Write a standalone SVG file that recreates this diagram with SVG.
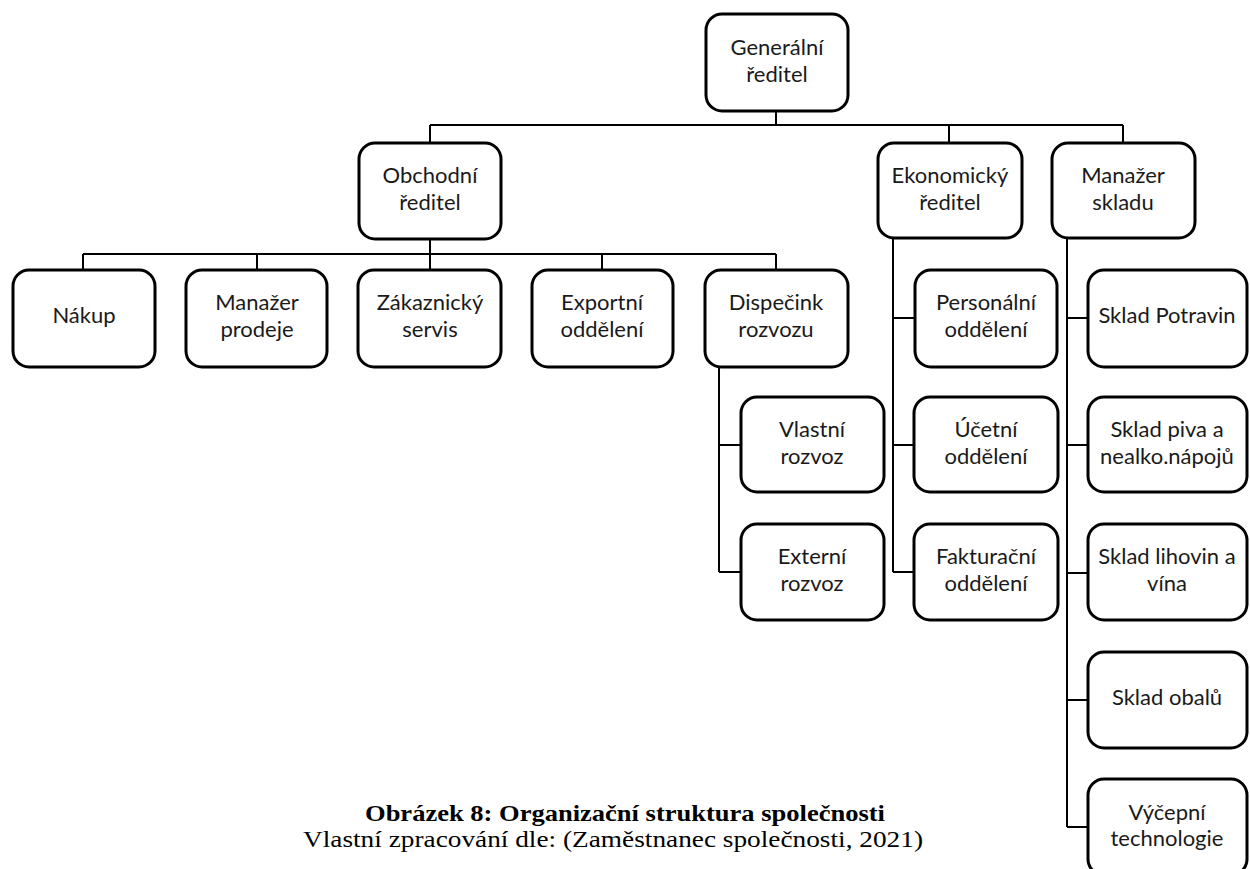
<svg xmlns="http://www.w3.org/2000/svg" width="1250" height="869" viewBox="0 0 1250 869">
<style>
.box{fill:#fff;stroke:#000;stroke-width:3}
.lbl{font-family:Lato,"Liberation Sans",sans-serif;font-size:22px;fill:#1a1a1a;text-anchor:middle}
.con{fill:none;stroke:#000;stroke-width:2}
.cap{font-family:"Liberation Serif",serif;font-size:23px;fill:#000}
</style>
<rect width="1250" height="869" fill="#fff"/>
<g id="connectors">
<path class="con" d="M776 112V125M430 125H1123M430 125V143M949 125V143M1123 125V143"/>
<path class="con" d="M430 239V254M83 254H776M83 254V270M257 254V270M430 254V270M602 254V270M776 254V270"/>
<path class="con" d="M719 367V572M719 445H741M719 572H741"/>
<path class="con" d="M893 238V572M893 318H915M893 445H915M893 572H915"/>
<path class="con" d="M1067 238V827M1067 318H1088M1067 445H1088M1067 573H1088M1067 700H1088M1067 827H1088"/>
</g>
<g id="n-generalni"><rect class="box" x="706" y="14" width="142" height="97" rx="16"/><text class="lbl" x="777" y="55">Generální</text><text class="lbl" x="777" y="82">ředitel</text></g>
<g id="n-obchodni"><rect class="box" x="359" y="143" width="142" height="96" rx="16"/><text class="lbl" x="430" y="183">Obchodní</text><text class="lbl" x="430" y="210">ředitel</text></g>
<g id="n-ekonomicky"><rect class="box" x="878" y="143" width="144" height="95" rx="16"/><text class="lbl" x="950" y="183">Ekonomický</text><text class="lbl" x="950" y="210">ředitel</text></g>
<g id="n-manazer-skladu"><rect class="box" x="1052" y="143" width="143" height="95" rx="16"/><text class="lbl" x="1123" y="183">Manažer</text><text class="lbl" x="1123" y="210">skladu</text></g>
<g id="n-nakup"><rect class="box" x="13" y="270" width="142" height="97" rx="16"/><text class="lbl" x="84" y="323">Nákup</text></g>
<g id="n-manazer-prodeje"><rect class="box" x="186" y="270" width="141" height="97" rx="16"/><text class="lbl" x="257" y="310">Manažer</text><text class="lbl" x="257" y="337">prodeje</text></g>
<g id="n-zakaznicky"><rect class="box" x="358" y="270" width="143" height="97" rx="16"/><text class="lbl" x="430" y="310">Zákaznický</text><text class="lbl" x="430" y="337">servis</text></g>
<g id="n-exportni"><rect class="box" x="532" y="270" width="141" height="97" rx="16"/><text class="lbl" x="602" y="310">Exportní</text><text class="lbl" x="602" y="337">oddělení</text></g>
<g id="n-dispecink"><rect class="box" x="705" y="270" width="143" height="97" rx="16"/><text class="lbl" x="776" y="310">Dispečink</text><text class="lbl" x="776" y="337">rozvozu</text></g>
<g id="n-vlastni"><rect class="box" x="741" y="397" width="143" height="95" rx="16"/><text class="lbl" x="812" y="437">Vlastní</text><text class="lbl" x="812" y="464">rozvoz</text></g>
<g id="n-externi"><rect class="box" x="741" y="524" width="143" height="96" rx="16"/><text class="lbl" x="812" y="564">Externí</text><text class="lbl" x="812" y="591">rozvoz</text></g>
<g id="n-personalni"><rect class="box" x="915" y="270" width="142" height="97" rx="16"/><text class="lbl" x="986" y="310">Personální</text><text class="lbl" x="986" y="337">oddělení</text></g>
<g id="n-ucetni"><rect class="box" x="914" y="397" width="144" height="95" rx="16"/><text class="lbl" x="986" y="437">Účetní</text><text class="lbl" x="986" y="464">oddělení</text></g>
<g id="n-fakturacni"><rect class="box" x="914" y="524" width="144" height="96" rx="16"/><text class="lbl" x="986" y="564">Fakturační</text><text class="lbl" x="986" y="591">oddělení</text></g>
<g id="n-potravin"><rect class="box" x="1088" y="270" width="159" height="97" rx="16"/><text class="lbl" x="1167" y="323">Sklad Potravin</text></g>
<g id="n-piva"><rect class="box" x="1088" y="397" width="159" height="95" rx="16"/><text class="lbl" x="1167" y="437">Sklad piva a</text><text class="lbl" x="1167" y="464">nealko.nápojů</text></g>
<g id="n-lihovin"><rect class="box" x="1088" y="524" width="159" height="96" rx="16"/><text class="lbl" x="1167" y="564">Sklad lihovin a</text><text class="lbl" x="1167" y="591">vína</text></g>
<g id="n-obalu"><rect class="box" x="1088" y="652" width="159" height="96" rx="16"/><text class="lbl" x="1167" y="705">Sklad obalů</text></g>
<g id="n-vycepni"><rect class="box" x="1088" y="779" width="159" height="96" rx="16"/><text class="lbl" x="1167" y="820">Výčepní</text><text class="lbl" x="1167" y="846">technologie</text></g>
<g id="caption">
<text class="cap" x="365" y="821" font-weight="bold" textLength="520" lengthAdjust="spacingAndGlyphs">Obrázek 8: Organizační struktura společnosti</text>
<text class="cap" x="303" y="847" textLength="620" lengthAdjust="spacingAndGlyphs">Vlastní zpracování dle: (Zaměstnanec společnosti, 2021)</text>
</g>
</svg>
